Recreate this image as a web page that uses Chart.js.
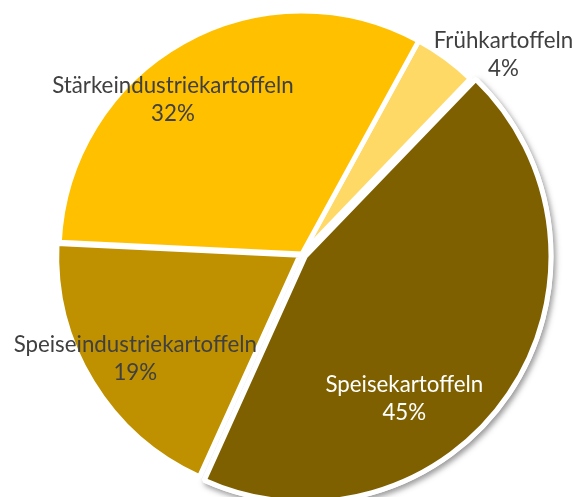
<!DOCTYPE html>
<html lang="de">
<head>
<meta charset="utf-8">
<title>Kartoffelverwendung</title>
<script src="https://cdn.jsdelivr.net/npm/chart.js@4/dist/chart.umd.min.js"></script>
<style>
  html, body { margin: 0; padding: 0; background: #fff; }
  #wrap { width: 577px; height: 497px; position: relative; }
</style>
</head>
<body>
<div id="wrap"><canvas id="pie"></canvas></div>
<script>
"use strict";

// Segments, clockwise from the Stärke/Früh boundary
const categories = ["Frühkartoffeln", "Speisekartoffeln", "Speiseindustriekartoffeln", "Stärkeindustriekartoffeln"];
const shares = [4.2, 44.6, 19.0, 32.2];
const colors = ["#FFD966", "#7F6000", "#BF9000", "#FFC000"];
const explode = [0, 16, 10, 0];

// label anchor (first baseline) relative to pie centre, in units of radius
const labelPlacement = [
  { fx: 0.829, fy: -0.847, color: "#404040" },
  { fx: 0.421, fy: 0.566, color: "#FFFFFF" },
  { fx: -0.686, fy: 0.405, color: "#404040" },
  { fx: -0.531, fy: -0.662, color: "#404040" },
];

const FONT = "22.3px Lato, 'Noto Sans', sans-serif";
const LINE_GAP = 28;

/** Soft drop shadow under the big pulled-out slice. */
const shadowPlugin = {
  id: "sliceShadow",
  beforeDatasetsDraw(chart) {
    const meta = chart.getDatasetMeta(0);
    const ctx = chart.ctx;
    meta.data.forEach((arc, i) => {
      if (explode[i] < 16) return;
      ctx.save();
      ctx.shadowColor = "rgba(0,0,0,0.35)";
      ctx.shadowBlur = 6;
      ctx.shadowOffsetX = 2;
      ctx.shadowOffsetY = 3;
      arc.draw(ctx);
      ctx.restore();
    });
  },
};

/** Two-line data labels: category name and rounded share. */
const labelPlugin = {
  id: "pieLabels",
  afterDatasetsDraw(chart) {
    const meta = chart.getDatasetMeta(0);
    const ctx = chart.ctx;
    const total = shares.reduce((a, b) => a + b, 0);
    ctx.save();
    ctx.font = FONT;
    ctx.textAlign = "center";
    ctx.textBaseline = "alphabetic";
    meta.data.forEach((arc, i) => {
      const { x, y, outerRadius } = arc.getProps(["x", "y", "outerRadius"], true);
      const p = labelPlacement[i];
      const lx = x + p.fx * outerRadius;
      const ly = y + p.fy * outerRadius;
      ctx.fillStyle = p.color;
      ctx.fillText(categories[i], lx, ly);
      ctx.fillText(Math.round((shares[i] / total) * 100) + "%", lx, ly + LINE_GAP);
    });
    ctx.restore();
  },
};

new Chart(document.getElementById("pie"), {
  type: "pie",
  data: {
    labels: categories,
    datasets: [{
      data: shares,
      backgroundColor: colors,
      borderColor: "#FFFFFF",
      borderWidth: 5,
      offset: explode,
    }],
  },
  options: {
    responsive: true,
    maintainAspectRatio: false,
    animation: false,
    rotation: 28.7,
    radius: 243,
    layout: { padding: { left: 27, top: 11, right: 0, bottom: 0 } },
    plugins: {
      legend: { display: false },
      tooltip: { enabled: false },
    },
  },
  plugins: [shadowPlugin, labelPlugin],
});
</script>
</body>
</html>
